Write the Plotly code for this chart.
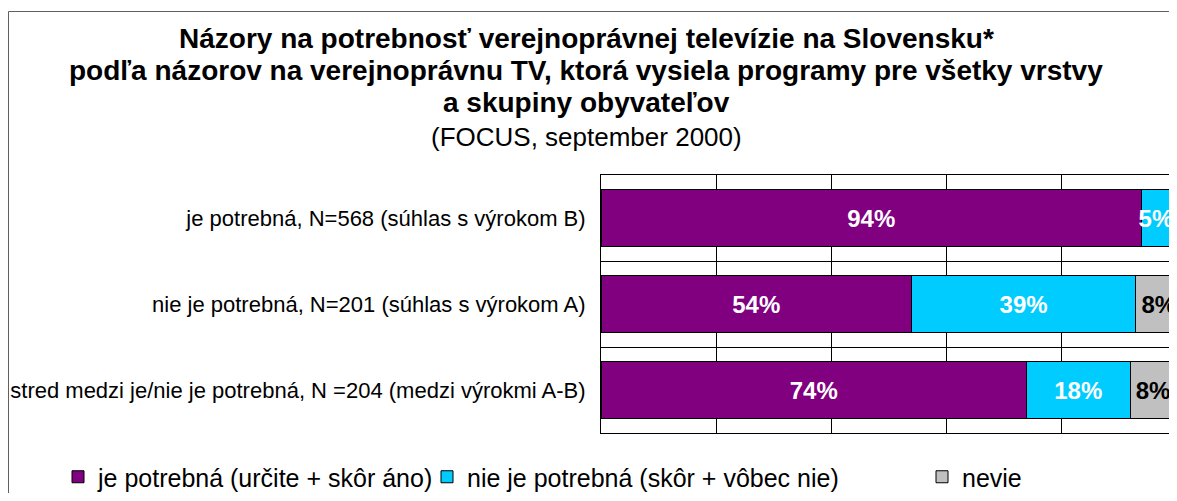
import plotly.graph_objects as go

categories = [
    "je potrebná, N=568 (súhlas s výrokom B)",
    "nie je potrebná, N=201 (súhlas s výrokom A)",
    "stred medzi je/nie je potrebná, N =204 (medzi výrokmi A-B)",
]
series_names = [
    "je potrebná (určite + skôr áno)",
    "nie je potrebná (skôr + vôbec nie)",
    "nevie",
]
values_potrebna = [94, 54, 74]
values_nie = [5, 39, 18]
values_nevie = [1, 8, 8]
show_label_nevie = [False, True, True]

title_lines = [
    "Názory na potrebnosť verejnoprávnej televízie na Slovensku*",
    "podľa názorov na verejnoprávnu TV, ktorá vysiela programy pre všetky vrstvy",
    "a skupiny obyvateľov",
]
subtitle = "(FOCUS, september 2000)"

colors = ["#800080", "#00CCFF", "#C0C0C0"]
label_colors = ["white", "white", "black"]
FONT = "Liberation Sans, Arial, sans-serif"

# figure geometry (pixels)
W, H = 1169, 485
ML, MR, MT, MB = 593, 1, 167, 60
PW, PH = W - ML - MR, H - MT - MB


def px_x(x):
    return (x - ML) / PW


def px_y(y):
    return (H - MB - y) / PH


fig = go.Figure()
series = [values_potrebna, values_nie, values_nevie]
legends = ["legend", "legend2", "legend3"]
for i, (name, vals) in enumerate(zip(series_names, series)):
    if i == 2:
        tt = ["%{x}%" if s else "" for s in show_label_nevie]
    else:
        tt = "%{x}%"
    fig.add_trace(go.Bar(
        y=categories, x=vals, name=name, orientation="h",
        marker=dict(color=colors[i], line=dict(color="black", width=1)),
        texttemplate=tt, textposition="inside", insidetextanchor="middle",
        constraintext="none", textangle=0,
        textfont=dict(family=FONT, size=24, color=label_colors[i], weight="bold"),
        legend=legends[i], hoverinfo="skip",
    ))

fig.update_layout(
    barmode="stack",
    bargap=0.33,
    width=W, height=H,
    margin=dict(l=ML, r=MR, t=MT, b=MB, pad=0),
    paper_bgcolor="white", plot_bgcolor="white",
    font=dict(family=FONT, color="black"),
    xaxis=dict(range=[0, 100], tickvals=[0, 20, 40, 60, 80, 100], showticklabels=False,
               showgrid=True, gridcolor="black", gridwidth=1, zeroline=False,
               showline=True, linecolor="black", linewidth=1, mirror=True, ticks=""),
    yaxis=dict(autorange="reversed", tickson="boundaries", showgrid=True,
               gridcolor="black", gridwidth=1, ticks="", ticklabelstandoff=10,
               showline=True, linecolor="black", linewidth=1, mirror=True,
               tickfont=dict(family=FONT, size=22, color="black")),
    showlegend=True,
)

# title lines
title_y = [30, 63, 95]
for txt, yy in zip(title_lines, title_y):
    fig.add_annotation(text="<b>" + txt + "</b>", xref="paper", yref="paper",
                       x=px_x(578), y=px_y(yy), xanchor="center", yanchor="middle",
                       showarrow=False, font=dict(family=FONT, size=28, color="black"))
fig.add_annotation(text=subtitle, xref="paper", yref="paper",
                   x=px_x(578), y=px_y(129), xanchor="center", yanchor="middle",
                   showarrow=False, font=dict(family=FONT, size=26, color="black"))

leg_common = dict(orientation="h", xref="container", yref="container",
                  xanchor="left", yanchor="middle", y=1 - 469 / H,
                  font=dict(family=FONT, size=25, color="black"),
                  bgcolor="rgba(0,0,0,0)", borderwidth=0)
fig.update_layout(
    legend=dict(x=50 / W, **leg_common),
    legend2=dict(x=419 / W, **leg_common),
    legend3=dict(x=914 / W, **leg_common),
)
# outer chart frame
fig.add_shape(type="rect", xref="paper", yref="paper",
              x0=px_x(0.5), x1=1.3, y0=-0.6, y1=px_y(3.5),
              line=dict(color="#606060", width=1), fillcolor="rgba(0,0,0,0)", layer="below")

fig.write_html("out.html")
